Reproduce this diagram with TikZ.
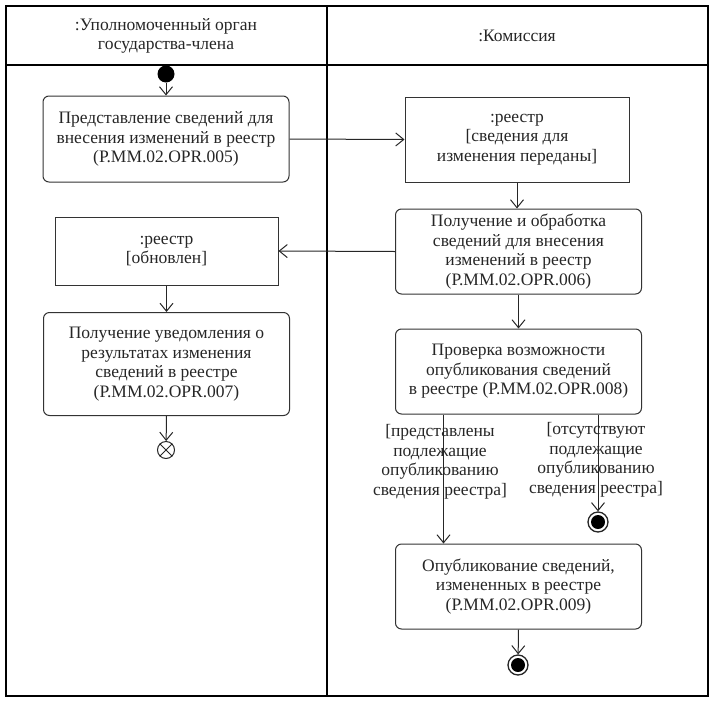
\documentclass[tikz,border=0pt]{standalone}
\usepackage{fontspec}
\setmainfont{Liberation Serif}
\usetikzlibrary{arrows.meta}
\begin{document}
\begin{tikzpicture}[x=1pt,y=-1pt, line width=1pt,
  txt/.style={font=\fontsize{17.5}{19.5}\selectfont, align=center, text=black!85},
  act/.style={txt, draw=black!80, rounded corners=6pt, inner sep=0pt},
  obj/.style={txt, draw=black!80, inner sep=0pt},
  flow/.style={draw=black!85, -{Straight Barb[length=8pt,width=13pt,line width=1pt]}},
  lbl/.style={txt}
]
\useasboundingbox (0,0) rectangle (715,702);
% frame
\draw[black, line width=1.2pt] (6,6) rectangle (708,696);
\draw[black, line width=1.2pt] (6,65) -- (708,65);
\draw[black, line width=1.2pt] (327,6) -- (327,696);
\node[txt] (h1) at (166,36) {:Уполномоченный орган\\государства-члена};
\node[txt] (h2) at (517,36) {:Комиссия};

\fill[black] (166,74) circle (8.5) coordinate (start);
\node[minimum size=17pt, inner sep=0pt] (st) at (166,74) {};

\node[act, minimum width=246pt, minimum height=86pt] (b1) at (166,139) {Представление сведений для\\внесения изменений в реестр\\(Р.ММ.02.OPR.005)};
\node[obj, minimum width=224pt, minimum height=85pt] (b2) at (517,139.5) {:реестр\\\relax[сведения для\\изменения переданы]};
\node[act, minimum width=246pt, minimum height=85pt] (b3) at (518.5,251.5) {Получение и обработка\\сведений для внесения\\изменений в реестр\\(Р.ММ.02.OPR.006)};
\node[obj, minimum width=223pt, minimum height=68pt] (b4) at (166.5,251) {:реестр\\\relax[обновлен]};
\node[act, minimum width=246pt, minimum height=103pt] (b5) at (166.5,364) {Получение уведомления о\\результатах изменения\\сведений в реестре\\(Р.ММ.02.OPR.007)};
\node[act, minimum width=246pt, minimum height=85pt] (b6) at (518.5,371.5) {Проверка возможности\\опубликования сведений\\в реестре (Р.ММ.02.OPR.008)};
\node[act, minimum width=246pt, minimum height=85pt] (b7) at (518.5,586.5) {Опубликование сведений,\\измененных в реестре\\(Р.ММ.02.OPR.009)};

% flow final
\node[draw=black!85, circle, minimum size=17pt, inner sep=0pt] (ff) at (166,450) {};
\draw[black!85] (ff.north west) -- (ff.south east) (ff.north east) -- (ff.south west);

% activity finals
\node[draw=black!85, circle, minimum size=20pt, inner sep=0pt, line width=1.3pt] (f1) at (598,522) {};
\fill[black] (f1.center) circle (7);
\node[draw=black!85, circle, minimum size=20pt, inner sep=0pt, line width=1.3pt] (f2) at (518,665) {};
\fill[black] (f2.center) circle (7);

% connectors
\draw[flow] (st) -- (b1);
\draw[flow] (b1.east) -- (b2.west);
\draw[flow] (b2.south) -- (b2.south |- b3.north);
\draw[flow] (b3.west) -- (b4.east);
\draw[flow] (b4.south) -- (b4.south |- b5.north);
\draw[flow] (b5.south) -- (ff);
\draw[flow] (b3.south) -- (b3.south |- b6.north);
\coordinate (l1) at (443.5,0);
\coordinate (r1) at (598,0);
\draw[flow] (l1 |- b6.south) -- (l1 |- b7.north);
\draw[flow] (r1 |- b6.south) -- (f1);
\draw[flow] (b7.south) -- (f2);

\node[lbl] (g1) at (440,462) {[представлены\\подлежащие\\опубликованию\\сведения реестра]};
\node[lbl] (g2) at (596,460) {[отсутствуют\\подлежащие\\опубликованию\\сведения реестра]};
\end{tikzpicture}
\end{document}
